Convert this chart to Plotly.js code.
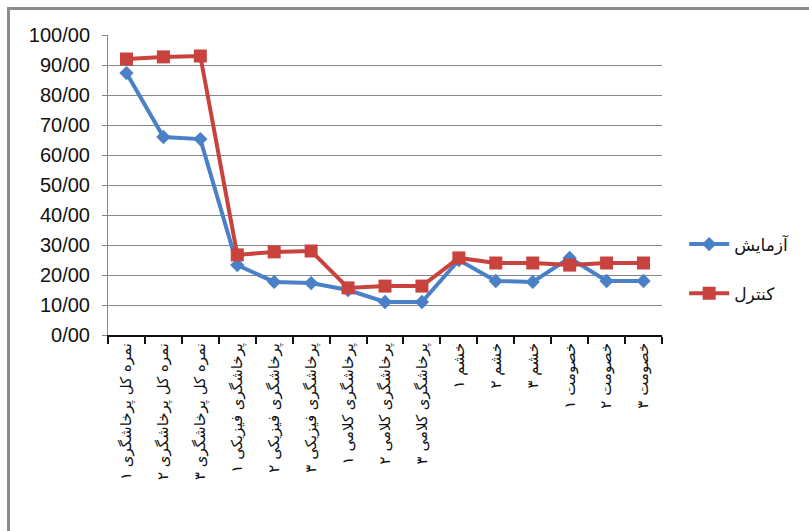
<!DOCTYPE html>
<html>
<head>
<meta charset="utf-8">
<script src="https://cdn.plot.ly/plotly-3.0.1.min.js"></script>
<style>
html,body{margin:0;padding:0;background:#fff;}
#frame{position:absolute;left:7px;top:7px;width:820px;height:540px;border-left:3px solid #8c8c8c;border-top:3px solid #8c8c8c;pointer-events:none;z-index:5;}
#chart{width:809px;height:531px;}
</style>
</head>
<body>
<div id="frame"></div>
<div id="chart"></div>
<script>
var categories = [
  "نمره کل پرخاشگری ۱",
  "نمره کل پرخاشگری ۲",
  "نمره کل پرخاشگری ۳",
  "پرخاشگری فیزیکی ۱",
  "پرخاشگری فیزیکی ۲",
  "پرخاشگری فیزیکی ۳",
  "پرخاشگری کلامی ۱",
  "پرخاشگری کلامی ۲",
  "پرخاشگری کلامی ۳",
  "خشم ۱",
  "خشم ۲",
  "خشم ۳",
  "خصومت ۱",
  "خصومت ۲",
  "خصومت ۳"
];
var experimentName = "آزمایش";
var controlName = "کنترل";
var experimentValues = [87.3, 66.0, 65.3, 23.3, 17.7, 17.3, 15.0, 11.0, 11.0, 25.0, 18.0, 17.7, 25.7, 18.0, 18.0];
var controlValues = [92.0, 92.7, 93.0, 26.7, 27.7, 28.0, 15.7, 16.3, 16.3, 25.7, 24.0, 24.0, 23.3, 24.0, 24.0];
var yTickValues = [0, 10, 20, 30, 40, 50, 60, 70, 80, 90, 100];
var yTickLabels = ["0/00", "10/00", "20/00", "30/00", "40/00", "50/00", "60/00", "70/00", "80/00", "90/00", "100/00"];

var traces = [
  {
    x: categories, y: experimentValues, name: experimentName, legendgroup: "a",
    type: "scatter", mode: "lines+markers",
    line: {color: "#4A80C8", width: 4},
    marker: {symbol: "diamond", size: 11, color: "#4A80C8"}
  },
  {
    x: categories, y: controlValues, name: controlName, legendgroup: "b",
    type: "scatter", mode: "lines+markers",
    line: {color: "#C8423E", width: 4},
    marker: {symbol: "square", size: 13, color: "#C8423E"}
  }
];

var layout = {
  width: 809, height: 531,
  margin: {l: 108, r: 147, t: 35, b: 196},
  paper_bgcolor: "#ffffff", plot_bgcolor: "#ffffff",
  font: {family: "DejaVu Sans, Liberation Sans, sans-serif", color: "#1a1a1a"},
  showlegend: true,
  legend: {
    x: 1.04, y: 0.22, xanchor: "left", yanchor: "middle",
    font: {size: 17, family: "DejaVu Sans, sans-serif", color: "#111"},
    traceorder: "grouped", tracegroupgap: 24, itemwidth: 40
  },
  xaxis: {
    type: "category",
    tickangle: -90,
    tickson: "boundaries",
    ticks: "outside", ticklen: 7, tickwidth: 2, tickcolor: "#111",
    showline: true, linecolor: "#111", linewidth: 2,
    showgrid: false,
    tickfont: {size: 15, family: "DejaVu Sans, sans-serif", color: "#111"},
    range: [-0.5, 14.5], fixedrange: true
  },
  yaxis: {
    range: [0, 100],
    tickvals: yTickValues, ticktext: yTickLabels,
    ticks: "outside", ticklen: 5, tickcolor: "#868686",
    showline: true, linecolor: "#868686", linewidth: 1,
    showgrid: true, gridcolor: "#868686", gridwidth: 1,
    zeroline: false,
    ticklabelstandoff: 8,
    tickfont: {size: 20, family: "Liberation Sans, Arial, sans-serif", color: "#111"},
    fixedrange: true
  }
};

Plotly.newPlot("chart", traces, layout, {displayModeBar: false, staticPlot: true});
</script>
</body>
</html>
